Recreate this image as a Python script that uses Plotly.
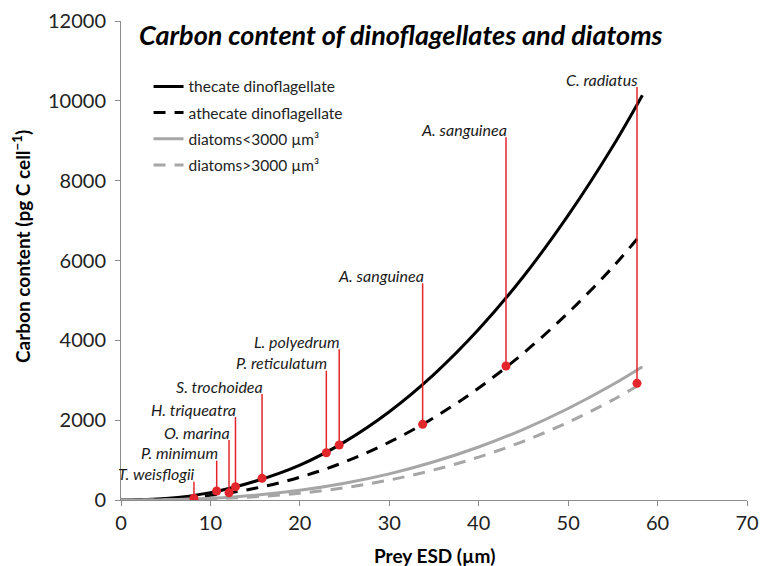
import plotly.graph_objects as go

# ---- data ----
esd = [0, 5, 10, 15, 20, 25, 30, 35, 40, 45, 50, 55, 58.3]
thecate = [0, 37, 185, 470, 874, 1457, 2212, 3148, 4275, 5599, 7130, 8862, 10140]
athecate = [0, 24, 116, 294, 570, 952, 1448, 2064, 2806, 3680, 4689, 5838, 6700]
diatoms_small = [0, 8, 44, 120, 243, 420, 655, 957, 1327, 1770, 2292, 2894, 3340]
diatoms_large = [0, 4, 27, 79, 170, 308, 500, 754, 1075, 1471, 1947, 2509, 2930]

species = ["T. weisflogii", "P. minimum", "O. marina", "H. triqueatra", "S. trochoidea",
           "P. reticulatum", "L. polyedrum", "A. sanguinea", "A. sanguinea", "C. radiatus"]
species_esd = [8.16, 10.7, 12.08, 12.8, 15.77, 22.96, 24.4, 33.73, 43.05, 57.7]
species_carbon = [45, 225, 183, 333, 543, 1185, 1378, 1896, 3357, 2922]
label_top = [458, 985, 1503, 2079, 2655, 3239, 3775, 5428, 9085, 10346]

x_ticks = [0, 10, 20, 30, 40, 50, 60, 70]
y_ticks = [0, 2000, 4000, 6000, 8000, 10000, 12000]

FONT = "Lato"
RED = "#E3262B"
GRAY = "#A6A6A6"

fig = go.Figure()
fig.add_trace(go.Scatter(x=esd, y=thecate, mode="lines", name="thecate dinoflagellate",
                         legendgroup="a",
                         line=dict(color="black", width=3, shape="spline")))
fig.add_trace(go.Scatter(x=esd, y=athecate, mode="lines", name="athecate dinoflagellate",
                         legendgroup="b",
                         line=dict(color="black", width=3, dash="12px,9px", shape="spline")))
fig.add_trace(go.Scatter(x=esd, y=diatoms_small, mode="lines", name="diatoms&lt;3000 µm³",
                         legendgroup="c",
                         line=dict(color=GRAY, width=3, shape="spline")))
fig.add_trace(go.Scatter(x=esd, y=diatoms_large, mode="lines", name="diatoms&gt;3000 µm³",
                         legendgroup="d",
                         line=dict(color=GRAY, width=3, dash="12px,9px", shape="spline")))

# red drop lines and dots
for name, xv, yv, top in zip(species, species_esd, species_carbon, label_top):
    fig.add_trace(go.Scatter(x=[xv, xv], y=[yv, top], mode="lines", showlegend=False,
                             line=dict(color=RED, width=1.5), hoverinfo="skip"))
    fig.add_annotation(x=xv, y=top, text=name, showarrow=False, xanchor="right",
                       yanchor="middle", xshift=3, yshift=8,
                       font=dict(family=FONT, size=16, color="#1a1a1a", style="italic"))
fig.add_trace(go.Scatter(x=species_esd, y=species_carbon, mode="markers", showlegend=False,
                         marker=dict(color=RED, size=9)))

fig.add_annotation(xref="paper", yref="paper", x=0.026, y=0.971, xanchor="left", yanchor="middle",
                   text="<b><i>Carbon content of dinoflagellates and diatoms</i></b>",
                   showarrow=False, font=dict(family=FONT, size=27, color="black"))
fig.add_annotation(xref="paper", yref="paper", x=-0.16, y=0.53, xanchor="center", yanchor="middle",
                   textangle=-90, showarrow=False,
                   text="<b>Carbon content (pg C cell<sup>−1</sup>)</b>",
                   font=dict(family=FONT, size=19, color="black"))
fig.add_annotation(xref="paper", yref="paper", x=0.5, y=-0.115, xanchor="center", yanchor="middle",
                   showarrow=False, text="<b>Prey ESD (µm)</b>",
                   font=dict(family=FONT, size=19, color="black"))

fig.update_layout(
    width=773, height=566,
    margin=dict(l=121, r=26, t=21, b=66),
    paper_bgcolor="white", plot_bgcolor="white",
    font=dict(family=FONT, color="#222222"),
    showlegend=True,
    legend=dict(x=0.044, y=0.898, xanchor="left", yanchor="top", bgcolor="rgba(0,0,0,0)",
                font=dict(family=FONT, size=15.5, color="#222222"), tracegroupgap=3),
    xaxis=dict(range=[0, 70], tickvals=x_ticks, ticktext=[str(v) for v in x_ticks],
               showgrid=False, zeroline=False, automargin=False,
               showline=True, linecolor="#8C8C8C", linewidth=1, ticks="outside", ticklen=5,
               tickcolor="#8C8C8C", tickfont=dict(family=FONT, size=20, color="#222222")),
    yaxis=dict(range=[0, 12000], tickvals=y_ticks, ticktext=[str(v) for v in y_ticks],
               showgrid=False, zeroline=False, automargin=False,
               showline=True, linecolor="#8C8C8C", linewidth=1, ticks="outside", ticklen=5,
               tickcolor="#8C8C8C", tickfont=dict(family=FONT, size=20, color="#222222"),
               ticklabelstandoff=5),
)
fig.write_html("out.html")
